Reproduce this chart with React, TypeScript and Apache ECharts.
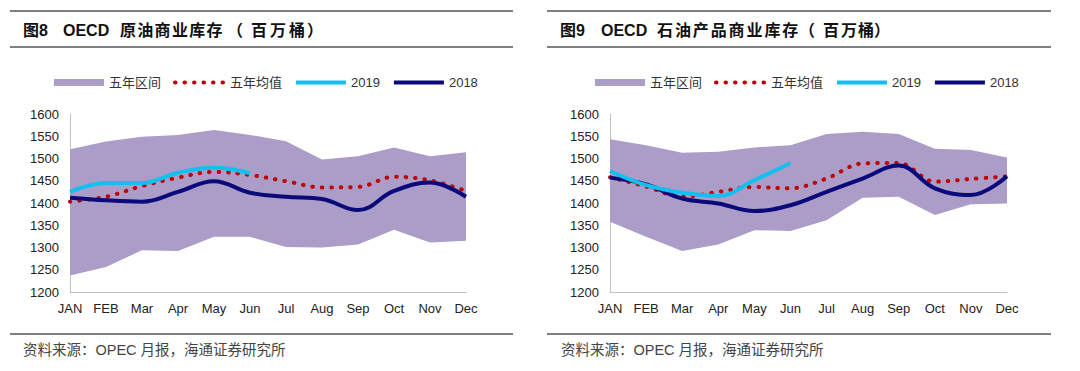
import React, { useEffect, useRef } from "react";
import * as echarts from "echarts";

// ---------- data ----------
const months = ["JAN", "FEB", "Mar", "Apr", "May", "Jun", "Jul", "Aug", "Sep", "Oct", "Nov", "Dec"];
const legendNames = ["五年区间", "五年均值", "2019", "2018"];

// 图8 OECD 原油商业库存
const crudeUpper = [1521, 1538, 1549, 1553, 1564, 1553, 1539, 1498, 1505, 1525, 1505, 1514];
const crudeLower = [1237, 1256, 1294, 1292, 1324, 1324, 1301, 1300, 1307, 1340, 1311, 1315];
const crudeMean = [1403, 1414, 1438, 1457, 1470, 1463, 1449, 1435, 1436, 1459, 1451, 1427];
const crude2019 = [1425, 1445, 1445, 1468, 1479, 1467];
const crude2018 = [1412, 1406, 1403, 1425, 1449, 1423, 1414, 1409, 1384, 1427, 1446, 1414];

// 图9 OECD 石油产品商业库存
const prodUpper = [1543, 1530, 1513, 1515, 1525, 1530, 1555, 1560, 1555, 1522, 1519, 1502];
const prodLower = [1358, 1324, 1292, 1307, 1339, 1337, 1361, 1412, 1414, 1373, 1397, 1399];
const prodMean = [1458, 1437, 1414, 1425, 1436, 1433, 1455, 1489, 1490, 1448, 1454, 1460];
const prod2019 = [1472, 1440, 1423, 1416, 1451, 1490];
const prod2018 = [1457, 1442, 1410, 1399, 1382, 1395, 1425, 1455, 1484, 1433, 1418, 1460];

const yMin = 1200;
const yMax = 1600;
const yStep = 50;

const source = "资料来源：OPEC 月报，海通证券研究所";

// ---------- styles ----------
const FONT = "'Liberation Sans', 'Noto Sans CJK SC', sans-serif";
const PURPLE = "#ab9cc8";
const RED = "#c00000";
const CYAN = "#12c0f0";
const NAVY = "#0a0a7a";
const RULE = "#555555";

function panelSeries(gi: number, upper: number[], lower: number[], mean: number[], y19: number[], y18: number[]) {
  const common = { type: "line", xAxisIndex: gi, yAxisIndex: gi, symbol: "none" };
  return [
    {
      ...common,
      name: "base" + gi,
      stack: "band" + gi,
      data: lower,
      lineStyle: { opacity: 0, width: 0 },
      areaStyle: { opacity: 0 },
      silent: true,
    },
    {
      ...common,
      name: legendNames[0],
      stack: "band" + gi,
      data: upper.map((u, i) => u - lower[i]),
      lineStyle: { width: 0, color: PURPLE },
      itemStyle: { color: PURPLE },
      areaStyle: { color: PURPLE, opacity: 1 },
    },
    {
      ...common,
      name: legendNames[1],
      data: mean,
      smooth: 0.35,
      itemStyle: { color: RED },
      lineStyle: { color: RED, width: 4, type: [0.5, 9], cap: "round" },
    },
    {
      ...common,
      name: legendNames[3],
      data: y18,
      smooth: 0.4,
      itemStyle: { color: NAVY },
      lineStyle: { color: NAVY, width: 4 },
    },
    {
      ...common,
      name: legendNames[2],
      data: y19,
      smooth: 0.4,
      itemStyle: { color: CYAN },
      lineStyle: { color: CYAN, width: 4 },
    },
  ];
}

type Piece = { t: string; x: number };
const leftTitle: Piece[] = [
  { t: "图8", x: 23 },
  { t: "OECD", x: 63 },
  ...Array.from("原油商业库存").map((c, i) => ({ t: c, x: 120 + i * 17.3 })),
  { t: "（", x: 227 },
  { t: "百", x: 251 },
  { t: "万", x: 270 },
  { t: "桶", x: 289 },
  { t: "）", x: 307 },
];
const rightTitle: Piece[] = [
  { t: "图9", x: 560 },
  { t: "OECD", x: 601 },
  ...Array.from("石油产品商业库存").map((c, i) => ({ t: c, x: 657 + i * 17.9 })),
  { t: "（", x: 799 },
  { t: "百", x: 823 },
  { t: "万", x: 841 },
  { t: "桶", x: 858 },
  { t: "）", x: 874 },
];

function titleEls(pieces: Piece[]) {
  return pieces.map((p) => ({
    type: "text",
    x: p.x,
    y: 30,
    style: {
      text: p.t,
      font: `bold 16px ${FONT}`,
      fill: "#111",
      verticalAlign: "middle",
    },
  }));
}

function ruleEl(x1: number, x2: number, y: number) {
  return {
    type: "line",
    shape: { x1, y1: y, x2, y2: y },
    style: { stroke: RULE, lineWidth: 1.3 },
  };
}

export default function App() {
  const ref = useRef<HTMLDivElement>(null);

  useEffect(() => {
    if (!ref.current) return;
    const chart = echarts.init(ref.current, null, { renderer: "svg" });

    const grids = [
      { left: 70, top: 114, width: 396, height: 178 },
      { left: 610, top: 114, width: 397, height: 178 },
    ];

    const xAxes = grids.map((_, i) => ({
      type: "category",
      gridIndex: i,
      data: months,
      boundaryGap: false,
      axisLine: { lineStyle: { color: "#c0c0c0", width: 1 } },
      axisTick: { show: false },
      axisLabel: { color: "#222", fontSize: 13, fontFamily: FONT, margin: 10, interval: 0 },
      splitLine: { show: false },
    }));
    const yAxes = grids.map((_, i) => ({
      type: "value",
      gridIndex: i,
      min: yMin,
      max: yMax,
      interval: yStep,
      axisLine: { show: true, lineStyle: { color: "#c0c0c0", width: 1 } },
      axisTick: { show: false },
      axisLabel: {
        color: "#222",
        fontSize: 13,
        fontFamily: FONT,
        margin: 11,
        formatter: (v: number) => String(v),
      },
      splitLine: { show: false },
    }));

    const legendData = [
      { name: legendNames[0], icon: "rect" },
      { name: legendNames[1], itemStyle: { opacity: 0 } },
      { name: legendNames[2], itemStyle: { opacity: 0 } },
      { name: legendNames[3], itemStyle: { opacity: 0 } },
    ];
    const legends = [49, 590].map((left) => ({
      left,
      top: 71,
      itemWidth: 50,
      itemHeight: 7,
      itemGap: 12,
      selectedMode: false,
      textStyle: { color: "#333", fontSize: 13, fontFamily: FONT },
      lineStyle: { width: 4 },
      data: legendData,
    }));

    chart.setOption({
      animation: false,
      backgroundColor: "#ffffff",
      grid: grids,
      xAxis: xAxes,
      yAxis: yAxes,
      legend: legends,
      series: [
        ...panelSeries(0, crudeUpper, crudeLower, crudeMean, crude2019, crude2018),
        ...panelSeries(1, prodUpper, prodLower, prodMean, prod2019, prod2018),
      ],
      graphic: [
        ruleEl(10, 513, 11),
        ruleEl(10, 513, 47),
        ruleEl(10, 513, 334),
        ruleEl(547, 1051, 11),
        ruleEl(547, 1051, 47),
        ruleEl(547, 1051, 334),
        ...titleEls(leftTitle),
        ...titleEls(rightTitle),
        {
          type: "text",
          x: 23,
          y: 350,
          style: { text: source, font: `14.5px ${FONT}`, fill: "#444", verticalAlign: "middle" },
        },
        {
          type: "text",
          x: 561,
          y: 350,
          style: { text: source, font: `14.5px ${FONT}`, fill: "#444", verticalAlign: "middle" },
        },
      ],
    });

    return () => chart.dispose();
  }, []);

  return (
    <div
      ref={ref}
      style={{ position: "absolute", left: 0, top: 0, width: 1080, height: 371, background: "#fff" }}
    />
  );
}
